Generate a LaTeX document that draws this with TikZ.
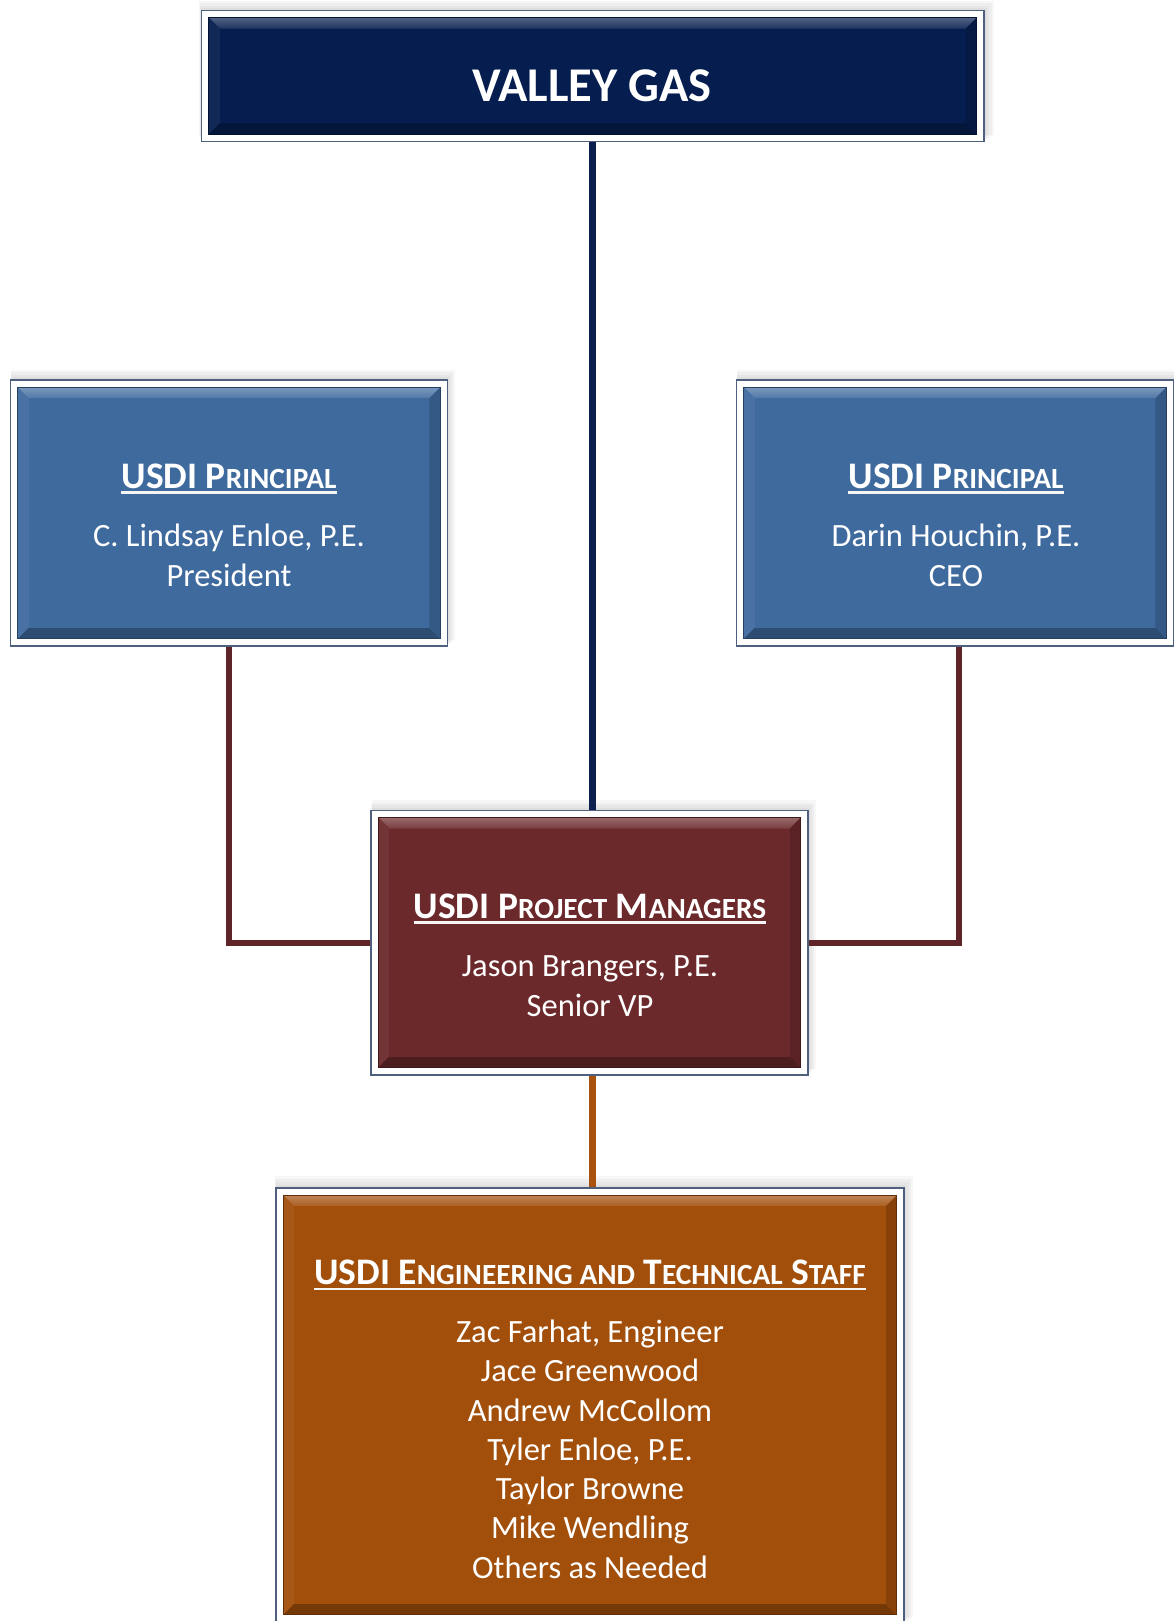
\documentclass[tikz,border=0pt]{standalone}
\usepackage{fontspec}
\setmainfont{Carlito}
\usetikzlibrary{shadows,calc}
\definecolor{navyc}{HTML}{061E4F}
\definecolor{bluec}{HTML}{3F6A9E}
\definecolor{maroonc}{HTML}{6B292B}
\definecolor{orangec}{HTML}{A24F0B}
\definecolor{framec}{HTML}{4F607E}
\definecolor{navyline}{HTML}{0A1F4F}
\definecolor{maroonline}{HTML}{5E2428}
\definecolor{orangeline}{HTML}{A8520E}
\newcommand\smc[1]{{\fontsize{29.3}{29.3}\selectfont #1}}
\newcommand\bevel[2]{%
 \coordinate (bNW) at ([shift={(8pt,-8pt)}]#1.north west);
 \coordinate (bNE) at ([shift={(-8pt,-8pt)}]#1.north east);
 \coordinate (bSW) at ([shift={(8pt,8pt)}]#1.south west);
 \coordinate (bSE) at ([shift={(-8pt,8pt)}]#1.south east);
 \fill[#2] (bNW) rectangle (bSE);
 \shade[top color=#2!70!white, bottom color=#2!90!white] (bNW) -- (bNE) -- ([shift={(-11pt,-11pt)}]bNE) -- ([shift={(11pt,-11pt)}]bNW) -- cycle;
 \fill[#2!95!white] (bNW) -- ([shift={(11pt,-11pt)}]bNW) -- ([shift={(11pt,11pt)}]bSW) -- (bSW) -- cycle;
 \fill[#2!72!black] (bSW) -- (bSE) -- ([shift={(-11pt,11pt)}]bSE) -- ([shift={(11pt,11pt)}]bSW) -- cycle;
 \fill[#2!84!black] (bNE) -- (bSE) -- ([shift={(-11pt,11pt)}]bSE) -- ([shift={(-11pt,-11pt)}]bNE) -- cycle;
 \fill[#2] ([shift={(11pt,-11pt)}]bNW) rectangle ([shift={(-11pt,11pt)}]bSE);
 \draw[#2!60!black, line width=0.8pt] (bNW) rectangle (bSE);
}
\tikzset{
 frame/.style={rectangle, draw=framec, line width=1.5pt, fill=white, inner sep=0pt,
   general shadow={fill=black, opacity=0.035, shadow xshift=1pt, shadow yshift=2pt, shadow scale=1.004},
   general shadow={fill=black, opacity=0.035, shadow xshift=2pt, shadow yshift=4pt, shadow scale=1.008},
   general shadow={fill=black, opacity=0.035, shadow xshift=3pt, shadow yshift=6pt, shadow scale=1.012},
   general shadow={fill=black, opacity=0.03, shadow xshift=4pt, shadow yshift=8pt, shadow scale=1.016}},
 txt/.style={text=white, inner sep=0pt, anchor=base, font=\fontsize{32.5}{39}\selectfont},
 head/.style={text=white, inner sep=0pt, anchor=base, font=\fontsize{37.5}{45}\selectfont\bfseries},
 uline/.style={draw=white!92!gray, line width=2.5pt},
 conn/.style={line width=7pt},
}
\begin{document}
\begin{tikzpicture}[x=1pt,y=-1pt]
\useasboundingbox (0,0) rectangle (1174,1621);
% frames
\node[frame, minimum width=782.5pt, minimum height=131.3pt] (vg) at (592.75,76) {};
\node[frame, minimum width=437pt, minimum height=266pt] (lp) at (229,513) {};
\node[frame, minimum width=437pt, minimum height=266pt] (rp) at (955,513) {};
\node[frame, minimum width=437pt, minimum height=264.5pt] (pm) at (589.6,942.5) {};
\node[frame, minimum width=628pt, minimum height=434pt] (st) at (590,1405) {};
\bevel{vg}{navyc}
\bevel{lp}{bluec}
\bevel{rp}{bluec}
\bevel{pm}{maroonc}
\bevel{st}{orangec}
% connectors
\draw[conn, navyline] (vg.south) -- (vg.south |- pm.north);
\draw[conn, maroonline, line width=6pt] (lp.south) |- (pm.west);
\draw[conn, maroonline, line width=6pt] ([xshift=4pt]rp.south) |- (pm.east);
\draw[conn, orangeline] (pm.south -| vg.south) -- (st.north -| vg.south);
% texts
\node[text=white, inner sep=0pt, font=\fontsize{48.5}{58}\selectfont\bfseries] (vgt) at (592,86) {VALLEY GAS};

\node[head] (lph) at (229,488) {USDI P\smc{RINCIPAL}};
\draw[uline] ([yshift=-4.5pt]lph.base west) -- ([yshift=-4.5pt]lph.base east);
\node[txt] (lp1) at (229,546.7) {C. Lindsay Enloe, P.E.};
\node[txt] (lp2) at (229,586) {President};

\node[head] (rph) at (956,488) {USDI P\smc{RINCIPAL}};
\draw[uline] ([yshift=-4.5pt]rph.base west) -- ([yshift=-4.5pt]rph.base east);
\node[txt] (rp1) at (956,546.7) {Darin Houchin, P.E.};
\node[txt] (rp2) at (956,586) {CEO};

\node[head] (pmh) at (590,918) {USDI P\smc{ROJECT} M\smc{ANAGERS}};
\draw[uline] ([yshift=-4.5pt]pmh.base west) -- ([yshift=-4.5pt]pmh.base east);
\node[txt] (pm1) at (590,976.6) {Jason Brangers, P.E.};
\node[txt] (pm2) at (590,1016) {Senior VP};

\node[head] (sth) at (590,1284.5) {USDI E\smc{NGINEERING AND} T\smc{ECHNICAL} S\smc{TAFF}};
\draw[uline] ([yshift=-4.5pt]sth.base west) -- ([yshift=-4.5pt]sth.base east);
\foreach \t [count=\i from 0] in {{Zac Farhat, Engineer}, Jace Greenwood, Andrew McCollom, {Tyler Enloe, P.E.}, Taylor Browne, Mike Wendling, Others as Needed}
  \node[txt] (st\i) at (590,{1342.5+39.27*\i}) {\t};
\end{tikzpicture}
\end{document}
